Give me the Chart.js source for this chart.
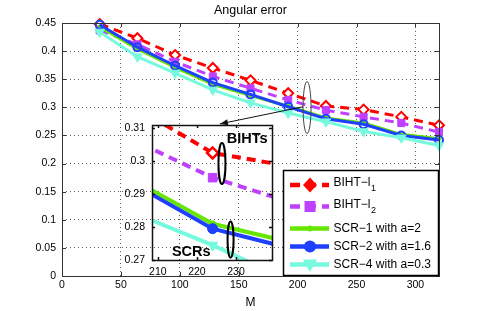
<!DOCTYPE html>
<html><head><meta charset="utf-8">
<script src="https://cdn.jsdelivr.net/npm/chart.js@4/dist/chart.umd.min.js"></script>
<style>
html,body{margin:0;padding:0;background:#fff;}
#wrap{position:relative;width:485px;height:311px;overflow:hidden;}
#wrap canvas{position:absolute;left:0;top:0;}
</style></head><body>
<div id="wrap"><canvas id="main" width="485" height="311"></canvas><canvas id="inset" width="485" height="311"></canvas></div>
<script>
// ---- data ----
const M = [32, 64, 96, 128, 160, 192, 224, 256, 288, 320];
const bihtL1 = [0.448, 0.423, 0.393, 0.370, 0.348, 0.325, 0.3025, 0.296, 0.283, 0.268];
const bihtL2 = [0.437, 0.412, 0.381, 0.355, 0.334, 0.313, 0.295, 0.283, 0.272, 0.256];
const scr1 = [0.443, 0.404, 0.371, 0.341, 0.321, 0.302, 0.281, 0.272, 0.252, 0.244];
const scr2 = [0.447, 0.407, 0.374, 0.344, 0.323, 0.301, 0.2795, 0.270, 0.250, 0.242];
const scr4 = [0.434, 0.390, 0.361, 0.331, 0.308, 0.290, 0.2745, 0.257, 0.246, 0.232];
const seriesLabels = ['BIHT\u2212l', 'BIHT\u2212l', 'SCR\u22121 with a=2', 'SCR\u22122 with a=1.6', 'SCR\u22124 with a=0.3'];
const seriesSubscripts = ['1', '2', '', '', ''];
const xTickValues = [0, 50, 100, 150, 200, 250, 300];
const xTickLabels = ['0', '50', '100', '150', '200', '250', '300'];
const yTickValues = [0, 0.05, 0.1, 0.15, 0.2, 0.25, 0.3, 0.35, 0.4, 0.45];
const yTickLabels = ['0', '0.05', '0.1', '0.15', '0.2', '0.25', '0.3', '0.35', '0.4', '0.45'];
const insetXTickValues = [210, 220, 230];
const insetXTickLabels = ['210', '220', '230'];
const insetYTickValues = [0.27, 0.28, 0.29, 0.30, 0.31];
const insetYTickLabels = ['0.27', '0.28', '0.29', '0.3', '0.31'];
const titleText = 'Angular error';
const xTitle = 'M';

// ---- styles ----
const FONT = "'Liberation Sans', Arial, Helvetica, sans-serif";
const RED = 'rgb(255,0,0)', PURPLE = 'rgb(192,64,255)', GREEN = 'rgb(102,230,0)',
      BLUE = 'rgb(30,64,255)', CYAN = 'rgb(118,250,222)';
const seriesValues = [bihtL1, bihtL2, scr1, scr2, scr4];
const styles = [
  {color: RED, dash: [9, 6], main: {ps: 'rectRot', r: 5, bg: '#fff', bw: 2}, ins: {ps: 'rectRot', r: 5.5, bg: '#fff', bw: 2.5}, leg: 'diamond', order: 5},
  {color: PURPLE, dash: [9, 6], main: {ps: 'rect', r: 5, bg: PURPLE, bw: 1}, ins: {ps: 'rect', r: 6, bg: PURPLE, bw: 1}, leg: 'square', order: 4},
  {color: GREEN, dash: [], main: {ps: 'circle', r: 2, bg: GREEN, bw: 1}, ins: {ps: 'circle', r: 3, bg: GREEN, bw: 1}, leg: 'dot', order: 3},
  {color: BLUE, dash: [], main: {ps: 'circle', r: 4, bg: 'rgba(255,255,255,0)', bw: 2}, ins: {ps: 'circle', r: 5, bg: BLUE, bw: 1}, leg: 'circle', order: 2},
  {color: CYAN, dash: [], main: {ps: 'triangle', r: 5.5, bg: CYAN, bw: 1, rot: 180}, ins: {ps: 'triangle', r: 6, bg: CYAN, bw: 1, rot: 180}, leg: 'tri', order: 1}
];

function buildDatasets(inset) {
  return seriesValues.map((vals, i) => {
    const s = styles[i];
    const p = inset ? s.ins : s.main;
    return {
      label: seriesLabels[i] + seriesSubscripts[i],
      data: M.map((m, j) => ({x: m, y: vals[j]})),
      borderColor: s.color,
      borderWidth: inset ? 4 : 3,
      borderDash: s.dash,
      pointStyle: p.ps,
      pointRadius: p.r,
      pointBackgroundColor: p.bg,
      pointBorderColor: s.color,
      pointBorderWidth: p.bw,
      pointRotation: p.rot || 0,
      tension: 0,
      fill: false,
      order: s.order,
      clip: inset ? 0 : false
    };
  });
}

function drawMarker(ctx, type, x, y, color) {
  ctx.save();
  ctx.setLineDash([]);
  ctx.fillStyle = color;
  ctx.beginPath();
  if (type === 'diamond') { ctx.moveTo(x, y - 7.5); ctx.lineTo(x + 7, y); ctx.lineTo(x, y + 7.5); ctx.lineTo(x - 7, y); ctx.closePath(); }
  else if (type === 'square') { ctx.rect(x - 5.5, y - 5.5, 11, 11); }
  else if (type === 'dot') { ctx.arc(x, y, 3, 0, Math.PI * 2); }
  else if (type === 'circle') { ctx.arc(x, y, 6, 0, Math.PI * 2); }
  else if (type === 'tri') { ctx.moveTo(x - 7, y - 5); ctx.lineTo(x + 7, y - 5); ctx.lineTo(x, y + 7.5); ctx.closePath(); }
  ctx.fill();
  ctx.restore();
}

function drawBoxAndTicks(chart, xVals, yVals, lw, color, tl) {
  const {ctx, chartArea: a} = chart;
  const xs = chart.scales.x, ys = chart.scales.y;
  ctx.save();
  ctx.setLineDash([]);
  ctx.strokeStyle = color;
  ctx.lineWidth = lw;
  ctx.beginPath();
  xVals.forEach(v => {
    const px = Math.round(xs.getPixelForValue(v)) + 0.5;
    ctx.moveTo(px, a.bottom); ctx.lineTo(px, a.bottom - tl);
    ctx.moveTo(px, a.top); ctx.lineTo(px, a.top + tl);
  });
  yVals.forEach(v => {
    const py = Math.round(ys.getPixelForValue(v)) + 0.5;
    ctx.moveTo(a.left, py); ctx.lineTo(a.left + tl, py);
    ctx.moveTo(a.right, py); ctx.lineTo(a.right - tl, py);
  });
  ctx.stroke();
  ctx.strokeRect(Math.round(a.left) + 0.5, Math.round(a.top) + 0.5, Math.round(a.right - a.left), Math.round(a.bottom - a.top));
  ctx.restore();
}

const mainDecor = {
  id: 'mainDecor',
  afterDraw(chart) {
    const {ctx, chartArea: a} = chart;
    const xs = chart.scales.x, ys = chart.scales.y;
    drawBoxAndTicks(chart, xTickValues, yTickValues, 1, '#333', 4);
    ctx.save();
    // title
    ctx.fillStyle = '#000';
    ctx.font = '12.5px ' + FONT;
    ctx.textAlign = 'center';
    ctx.textBaseline = 'alphabetic';
    ctx.fillText(titleText, (a.left + a.right) / 2, 14);
    // ellipse marking the zoomed region
    ctx.strokeStyle = '#444';
    ctx.lineWidth = 1;
    ctx.beginPath();
    const cx = xs.getPixelForValue(208), cy = ys.getPixelForValue(0.2996);
    ctx.ellipse(cx, cy, 4, 26, 0, 0, Math.PI * 2);
    ctx.stroke();
    // arrow to the inset
    const x1 = xs.getPixelForValue(204.5), y1 = ys.getPixelForValue(0.301);
    const x2 = xs.getPixelForValue(134), y2 = ys.getPixelForValue(0.2705);
    ctx.strokeStyle = '#111';
    ctx.beginPath(); ctx.moveTo(x1, y1); ctx.lineTo(x2, y2); ctx.stroke();
    const ang = Math.atan2(y2 - y1, x2 - x1);
    ctx.fillStyle = '#111';
    ctx.beginPath();
    ctx.moveTo(x2, y2);
    ctx.lineTo(x2 - 8 * Math.cos(ang) + 3 * Math.sin(ang), y2 - 8 * Math.sin(ang) - 3 * Math.cos(ang));
    ctx.lineTo(x2 - 8 * Math.cos(ang) - 3 * Math.sin(ang), y2 - 8 * Math.sin(ang) + 3 * Math.cos(ang));
    ctx.closePath(); ctx.fill();
    // legend
    const L = 283, T = 170, R = a.right, B = a.bottom;
    ctx.fillStyle = '#fff';
    ctx.fillRect(L, T, R - L, B - T);
    ctx.strokeStyle = '#000';
    ctx.lineWidth = 1.5;
    ctx.strokeRect(L + 0.5, T + 0.5, R - L - 1, B - T - 1);
    const rows = [185, 206.5, 228.5, 246.5, 264.5];
    rows.forEach((ry, i) => {
      const s = styles[i];
      ctx.save();
      ctx.strokeStyle = s.color;
      ctx.lineWidth = 4.5;
      ctx.setLineDash(s.dash.length ? [10, 6] : []);
      ctx.beginPath(); ctx.moveTo(290, ry); ctx.lineTo(329, ry); ctx.stroke();
      ctx.restore();
      drawMarker(ctx, s.leg, 310, ry, s.color);
      ctx.fillStyle = '#000';
      ctx.font = '12px ' + FONT;
      ctx.textAlign = 'left';
      ctx.textBaseline = 'middle';
      ctx.fillText(seriesLabels[i], 333.5, ry - (seriesSubscripts[i] ? 2 : 0));
      if (seriesSubscripts[i]) {
        const w = ctx.measureText(seriesLabels[i]).width;
        ctx.font = '9px ' + FONT;
        ctx.fillText(seriesSubscripts[i], 333.5 + w + 0.5, ry + 4);
      }
    });
    ctx.restore();
  }
};

const insetDecor = {
  id: 'insetDecor',
  afterDraw(chart) {
    const {ctx} = chart;
    const xs = chart.scales.x, ys = chart.scales.y;
    drawBoxAndTicks(chart, insetXTickValues, insetYTickValues, 1.5, '#111', 3);
    ctx.save();
    ctx.strokeStyle = '#000';
    ctx.lineWidth = 2;
    ctx.beginPath();
    ctx.ellipse(xs.getPixelForValue(226.4), ys.getPixelForValue(0.2993), 3.5, 20.5, 0, 0, Math.PI * 2);
    ctx.stroke();
    ctx.beginPath();
    ctx.ellipse(xs.getPixelForValue(228.6), ys.getPixelForValue(0.2762), 3, 18, 0, 0, Math.PI * 2);
    ctx.stroke();
    ctx.fillStyle = '#000';
    ctx.font = 'bold 14.5px ' + FONT;
    ctx.textAlign = 'left';
    ctx.textBaseline = 'middle';
    ctx.fillText('BIHTs', xs.getPixelForValue(227.6), ys.getPixelForValue(0.3067));
    ctx.fillText('SCRs', xs.getPixelForValue(213.6), ys.getPixelForValue(0.2725));
    ctx.restore();
  }
};

const tickFont = {family: FONT, size: 10.5};

new Chart(document.getElementById('main'), {
  type: 'line',
  data: {datasets: buildDatasets(false)},
  options: {
    responsive: false, animation: false, devicePixelRatio: 1,
    layout: {padding: {left: 0, top: 23, right: 46, bottom: 0}},
    plugins: {legend: {display: false}, tooltip: {enabled: false}, title: {display: false}},
    scales: {
      x: {
        type: 'linear', min: 0, max: 320,
        afterFit: s => { s.height = 35; },
        afterBuildTicks: s => { s.ticks = xTickValues.map(v => ({value: v})); },
        ticks: {padding: 3, color: '#000', font: tickFont, callback: (v, i) => xTickLabels[i]},
        grid: {drawTicks: false, color: 'rgba(40,40,40,0.75)', lineWidth: 1},
        border: {display: false, dash: [1, 3]},
        title: {display: true, text: xTitle, color: '#000', font: {family: FONT, size: 12}, padding: {top: 0, bottom: 1}}
      },
      y: {
        type: 'linear', min: 0, max: 0.45,
        afterFit: s => { s.width = 62; },
        afterBuildTicks: s => { s.ticks = yTickValues.map(v => ({value: v})); },
        ticks: {padding: 6, color: '#000', font: tickFont, callback: (v, i) => yTickLabels[i]},
        grid: {drawTicks: false, color: 'rgba(40,40,40,0.75)', lineWidth: 1},
        border: {display: false, dash: [1, 3]}
      }
    }
  },
  plugins: [mainDecor]
});

new Chart(document.getElementById('inset'), {
  type: 'line',
  data: {datasets: buildDatasets(true)},
  options: {
    responsive: false, animation: false, devicePixelRatio: 1,
    layout: {padding: {left: 0, top: 125, right: 213, bottom: 0}},
    plugins: {legend: {display: false}, tooltip: {enabled: false}, title: {display: false}},
    scales: {
      x: {
        type: 'linear', min: 208.5, max: 239.2,
        afterFit: s => { s.height = 51; },
        afterBuildTicks: s => { s.ticks = insetXTickValues.map(v => ({value: v})); },
        ticks: {padding: 6, color: '#000', font: tickFont, callback: (v, i) => insetXTickLabels[i]},
        grid: {display: false, drawTicks: false},
        border: {display: false}
      },
      y: {
        type: 'linear', min: 0.27, max: 0.311,
        afterFit: s => { s.width = 152; },
        afterBuildTicks: s => { s.ticks = insetYTickValues.map(v => ({value: v})); },
        ticks: {padding: 7, color: '#000', font: tickFont, callback: (v, i) => insetYTickLabels[i]},
        grid: {display: false, drawTicks: false},
        border: {display: false}
      }
    }
  },
  plugins: [insetDecor]
});
</script>
</body></html>
